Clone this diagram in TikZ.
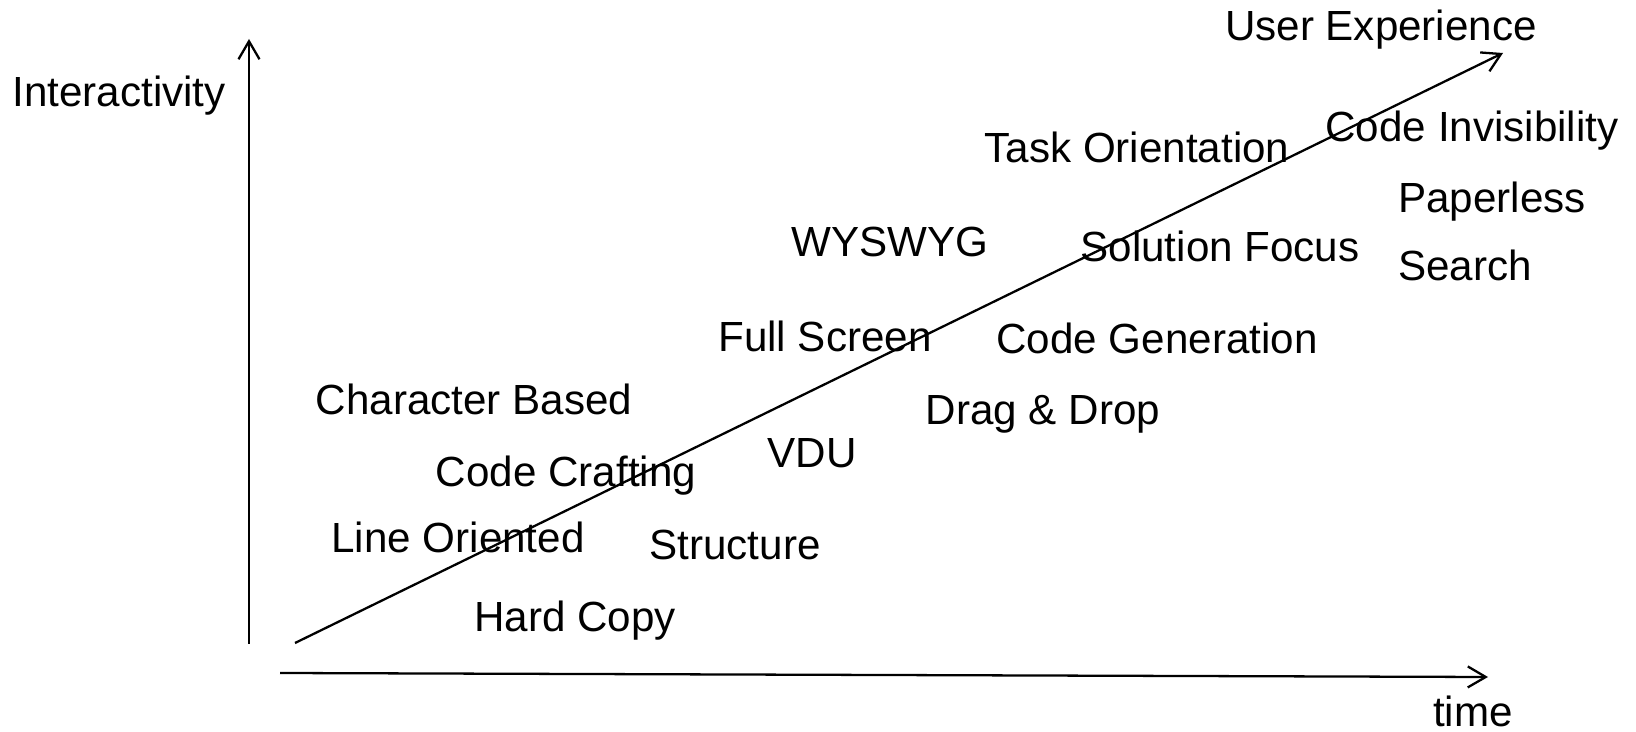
\documentclass[tikz,border=0pt]{standalone}
\usepackage{fontspec}
\setmainfont{Liberation Sans}
\usetikzlibrary{arrows.meta}
\usetikzlibrary{positioning}

\begin{document}
\begin{tikzpicture}[x=0.02cm, y=-0.02cm,
  lbl/.style={inner sep=0pt, anchor=base, font=\fontsize{24}{28}\selectfont},
  axis/.style={line width=1.3pt, -{Straight Barb[length=3.6mm, width=4.2mm, line width=1.3pt]}}]
\useasboundingbox (0,0) rectangle (1636,732);

% axes
\coordinate (o1) at (249,644);
\coordinate (ytip) at (249,39);
\coordinate (o2) at (280,673);
\coordinate (xtip) at (1488,677);
\coordinate (d0) at (295,643);
\coordinate (dtip) at (1503,53);
\draw[axis] (o1) -- (ytip);
\draw[axis] (o2) -- (xtip);
\draw[axis] (d0) -- (dtip);

\path (119,107) node[lbl] (inter) {Interactivity};
\path (1381,41) node[lbl] (ux) {User Experience};
\path (1473,726) node[lbl] (time) {time};

\path (1472,142) node[lbl] (c1) {Code Invisibility};
\path (1137,163) node[lbl] (c2) {Task Orientation};
\path (1398,213) node[lbl, anchor=base west] (c3) {Paperless};
\path (1398,281) node[lbl, anchor=base west] (c4) {Search};
\path (890,257) node[lbl] (c5) {WYSWYG};
\path (1220,262) node[lbl] (c6) {Solution Focus};
\path (825,352) node[lbl] (c7) {Full Screen};
\path (1157,354) node[lbl] (c8) {Code Generation};
\path (474,415) node[lbl] (c9) {Character Based};
\path (1043,425) node[lbl] (c10) {Drag \& Drop};
\path (812,468) node[lbl] (c11) {VDU};
\path (566,487) node[lbl] (c12) {Code Crafting};
\path (458,553) node[lbl] (c13) {Line Oriented};
\path (735,560) node[lbl] (c14) {Structure};
\path (575,632) node[lbl] (c15) {Hard Copy};

\end{tikzpicture}
\end{document}
